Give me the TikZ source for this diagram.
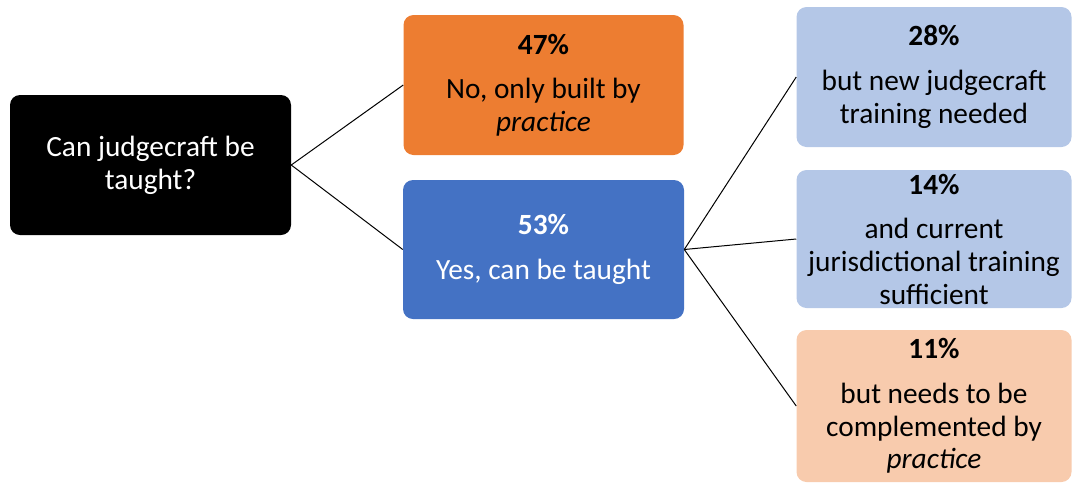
\documentclass[tikz,border=0pt]{standalone}
\usepackage{fontspec}
\setmainfont{Carlito}
\usetikzlibrary{positioning}

\definecolor{qorange}{HTML}{ED7D31}
\definecolor{qblue}{HTML}{4472C4}
\definecolor{qlightblue}{HTML}{B4C7E7}
\definecolor{qpeach}{HTML}{F8CBAD}

\tikzset{
	answerbox/.style={rectangle, rounded corners=7.5pt, inner sep=0pt, align=center,
		font=\fontsize{22}{24.5}\selectfont},
	darkbox/.style={answerbox, fill=#1, text=white},
	lightbox/.style={answerbox, fill=#1, text=black},
	branch/.style={draw=black, line width=0.75pt}
}
\newcommand{\pct}[1]{{\bfseries #1}\\[9pt]}

\begin{document}
\begin{tikzpicture}[x=0.75pt, y=-0.75pt]
		%%%%% START %%%%%
		\useasboundingbox (0, 0) rectangle (1072, 483);
		
		% question
		\node[darkbox=black, minimum width=281*0.75pt, minimum height=140*0.75pt] (question) at (150.5, 165) {Can judgecraft be\\taught?};
		
		% first split
		\node[lightbox=qorange, minimum width=280*0.75pt, minimum height=140*0.75pt] (no) at (543.5, 85) {\pct{47\%}No, only built by\\\textit{practice}};
		\node[darkbox=qblue, minimum width=281*0.75pt, minimum height=139*0.75pt] (yes) at (543.5, 249.5) {\pct{53\%}Yes, can be taught};
		
		% second split
		\node[lightbox=qlightblue, minimum width=275*0.75pt, minimum height=140*0.75pt] (newtraining) at (934, 77) {\pct{28\%}but new judgecraft\\training needed};
		\node[lightbox=qlightblue, minimum width=275*0.75pt, minimum height=138*0.75pt] (sufficient) at (934, 239) {\pct{14\%}and current\\jurisdictional training\\sufficient};
		\node[lightbox=qpeach, minimum width=275*0.75pt, minimum height=152*0.75pt] (complement) at (934, 406) {\pct{11\%}but needs to be\\complemented by\\\textit{practice}};
		
		\draw[branch] (question.east) -- (no.west);
		\draw[branch] (question.east) -- (yes.west);
		\draw[branch] (yes.east) -- (newtraining.west);
		\draw[branch] (yes.east) -- (sufficient.west);
		\draw[branch] (yes.east) -- (complement.west);
		%%%%% END %%%%%
	\end{tikzpicture}
\end{document}
